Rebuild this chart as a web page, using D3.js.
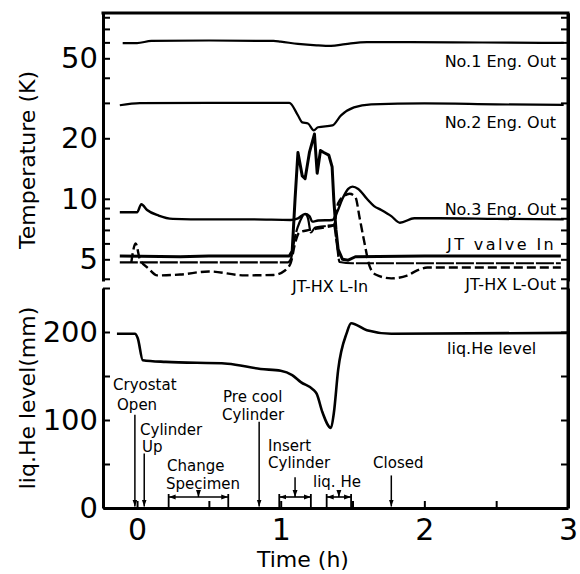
<!DOCTYPE html>
<html><head><meta charset="utf-8">
<script src="https://cdn.jsdelivr.net/npm/d3@7"></script>
<style>
body{margin:0;background:#fff}
svg{display:block}
text{font-family:"DejaVu Sans",sans-serif;fill:#000}
</style>
</head><body>
<svg id="c" width="580" height="574"></svg>
<script>
// ---------- data ----------
const timeTicks = [0, 0.5, 1, 1.5, 2, 2.5, 3];
const timeLabels = [0, 1, 2, 3];
const tempTicks = [4, 5, 6, 7, 8, 9, 10, 20, 30, 40, 50, 60, 70, 80];
const tempLabels = [5, 10, 20, 50];
const levelTicks = [0, 50, 100, 150, 200, 250];
const levelLabels = [0, 100, 200];

// [time (h), temperature (K)]
const no1EngOut = [[-0.1,59.5],[0.0,59.5],[0.1,61],[0.5,61.3],[0.95,61],[1.0,60.5],[1.12,59],[1.25,58],[1.35,57.6],[1.45,58.8],[1.6,60.2],[1.8,60.2],[2.2,60],[2.6,59.8],[2.97,59.6]];
const no2EngOut = [[-0.12,29.2],[0.02,29.9],[0.5,30],[1.06,30],[1.12,26],[1.15,24],[1.19,23.7],[1.23,21.9],[1.26,22.7],[1.36,23.2],[1.42,26],[1.51,28.5],[1.63,29.5],[2.0,29.8],[2.5,29.5],[2.97,29.3]];
const no3EngOut = [[-0.12,8.57],[0.0,8.57],[0.03,9.39],[0.07,8.8],[0.15,8.25],[0.25,7.95],[0.5,7.9],[0.8,7.9],[1.07,7.85],[1.12,8.0],[1.17,8.4],[1.2,8.2],[1.22,7.7],[1.26,7.8],[1.36,7.85],[1.39,8.5],[1.43,10.0],[1.47,11.2],[1.5,11.5],[1.54,11.2],[1.6,10.0],[1.65,9.2],[1.7,8.8],[1.77,8.2],[1.83,7.6],[1.93,8.0],[2.1,8.0],[2.5,7.95],[2.97,7.9]];
const jtValveIn = [[-0.12,5.2],[0.3,5.15],[0.5,5.2],[1.06,5.2],[1.08,5.5],[1.1,10],[1.12,17],[1.15,13],[1.17,12.6],[1.2,17],[1.235,21],[1.254,13.4],[1.277,17.4],[1.3,17],[1.335,16.5],[1.358,14.4],[1.37,9.8],[1.385,7.0],[1.40,5.6],[1.43,5.0],[1.47,4.95],[1.52,5.15],[2.0,5.2],[2.95,5.2]];
const jtHxLIn = [[-0.12,4.83],[0.5,4.83],[1.05,4.83],[1.07,5.0],[1.1,6.5],[1.13,7.6],[1.17,8.4],[1.19,8.0],[1.21,6.8],[1.24,7.2],[1.3,7.3],[1.37,7.4],[1.39,6.0],[1.41,4.85],[1.5,4.78],[2.95,4.78]];
const jtHxLOut = [[-0.04,4.83],[-0.01,6.0],[0.02,5.0],[0.08,4.5],[0.14,4.16],[0.3,4.2],[0.5,4.35],[0.75,4.16],[0.95,4.18],[1.03,4.4],[1.07,4.8],[1.1,6.0],[1.13,6.8],[1.2,7.0],[1.3,7.2],[1.37,7.4],[1.4,9.5],[1.44,10.3],[1.48,10.6],[1.52,10.2],[1.55,8],[1.58,6.2],[1.62,4.6],[1.66,4.2],[1.77,4.02],[1.88,4.15],[1.95,4.4],[2.02,4.55],[2.5,4.55],[2.95,4.55]];
// [time (h), liquid He level (mm)]
const liqHeLevel = [[-0.14,198],[-0.015,198],[0.005,193],[0.04,168],[0.2,166],[0.63,164],[0.86,158],[1.0,156],[1.08,151],[1.14,143],[1.23,134],[1.25,130],[1.29,109],[1.35,91],[1.37,108],[1.40,157],[1.46,199],[1.49,210],[1.6,202],[1.77,198],[3.0,199]];

// events: arrow times (h) and arrow top (mm)
const arrowTimes = [-0.015, 0.05, 0.85, 1.77];
const arrowTops = [106, 62, 98, 37];
const bracketStarts = [0.22, 0.99, 1.32];
const bracketEnds = [0.635, 1.21, 1.49];

// ---------- layout ----------
const svg = d3.select("#c");
const x = d3.scaleLinear().domain([-0.237, 3.0]).range([103, 568]);
const yT = d3.scaleLog().domain([3.9, 84]).range([281, 13]);
const yB = d3.scaleLinear().domain([0, 250]).range([508, 288]);
const xL = 103, xR = 568;

const defs = svg.append("defs");
defs.append("marker").attr("id","ah").attr("viewBox","0 0 10 10").attr("refX",10).attr("refY",5)
  .attr("markerWidth",7).attr("markerHeight",7).attr("markerUnits","userSpaceOnUse").attr("orient","auto-start-reverse")
  .append("path").attr("d","M0,1.5L10,5L0,8.5Z").attr("fill","#000");

function styleAxis(g, labelSize){
  g.select(".domain").attr("stroke","#000").attr("stroke-width",3);
  g.selectAll(".tick line").attr("stroke","#000").attr("stroke-width",2);
  g.selectAll(".tick text").style("font-size",labelSize+"px").attr("fill","#000");
}

// top panel axes
const gTL = svg.append("g").attr("transform",`translate(${xL},0)`)
  .call(d3.axisLeft(yT).tickValues(tempTicks).tickSize(-7).tickSizeOuter(0).tickPadding(5)
    .tickFormat(d => tempLabels.includes(d) ? d : ""));
styleAxis(gTL, 29);
const gTR = svg.append("g").attr("transform",`translate(${xR},0)`)
  .call(d3.axisRight(yT).tickValues(tempTicks).tickSize(-7).tickSizeOuter(0).tickFormat(""));
styleAxis(gTR, 29);
// bottom panel axes
const gBL = svg.append("g").attr("transform",`translate(${xL},0)`)
  .call(d3.axisLeft(yB).tickValues(levelTicks).tickSize(-7).tickSizeOuter(0).tickPadding(5)
    .tickFormat(d => levelLabels.includes(d) ? d : ""));
styleAxis(gBL, 29);
const gBR = svg.append("g").attr("transform",`translate(${xR},0)`)
  .call(d3.axisRight(yB).tickValues(levelTicks).tickSize(-7).tickSizeOuter(0).tickFormat(""));
styleAxis(gBR, 29);
const gX = svg.append("g").attr("transform",`translate(0,${yB(0)})`)
  .call(d3.axisBottom(x).tickValues(timeTicks).tickSize(-7).tickSizeOuter(0).tickPadding(11)
    .tickFormat(d => timeLabels.includes(d) ? d : ""));
styleAxis(gX, 30);
// frame pieces
svg.append("line").attr("x1",xL-1.5).attr("x2",xR+1.5).attr("y1",yT.range()[1]).attr("y2",yT.range()[1])
  .attr("stroke","#000").attr("stroke-width",3);
svg.append("line").attr("x1",xR).attr("x2",xR).attr("y1",yT.range()[1]).attr("y2",yB(0))
  .attr("stroke","#000").attr("stroke-width",3);

// axis titles
svg.append("text").attr("transform",`translate(27,${(yT.range()[0]+yT.range()[1])/2 + 13}) rotate(-90)`)
  .attr("text-anchor","middle").attr("dominant-baseline","central").style("font-size","22px").text("Temperature (K)");
svg.append("text").attr("transform",`translate(27,${(yB.range()[0]+yB.range()[1])/2}) rotate(-90)`)
  .attr("text-anchor","middle").attr("dominant-baseline","central").style("font-size","22px").text("liq.He level(mm)");
svg.append("text").attr("x",(x(0.81)+x(1.5))/2).attr("y",567).attr("text-anchor","middle")
  .style("font-size","22px").text("Time (h)");

// lines
const lineT = d3.line().x(d => x(d[0])).y(d => yT(d[1])).curve(d3.curveMonotoneX);
const lineB = d3.line().x(d => x(d[0])).y(d => yB(d[1])).curve(d3.curveMonotoneX);
const lineLin = d3.line().x(d => x(d[0])).y(d => yT(d[1]));
function draw(path, w, dash){
  const p = svg.append("path").attr("d",path).attr("fill","none").attr("stroke","#000")
    .attr("stroke-width",w).attr("stroke-linejoin","round").attr("stroke-linecap","butt");
  if (dash) p.attr("stroke-dasharray",dash);
}
draw(lineT(no1EngOut), 2.2);
draw(lineT(no2EngOut), 2.2);
draw(lineT(no3EngOut), 2.4);
draw(lineT(jtHxLIn), 2.2, "18,2");
draw(lineT(jtHxLOut), 2.4, "9,4");
draw(lineLin(jtValveIn), 3);
draw(lineB(liqHeLevel), 2.6);

// series labels
function lab(txt, px, py, anchor, extra){
  const t = svg.append("text").attr("x",px).attr("y",py).attr("text-anchor",anchor||"start")
    .style("font-size","16px").text(txt);
  if (extra) t.style("letter-spacing",extra);
  return t;
}
lab("No.1 Eng. Out", x(2.917), yT(45.1), "end");
lab("No.2 Eng. Out", x(2.917), yT(22.4), "end");
lab("No.3 Eng. Out", x(2.917), yT(8.27), "end");
lab("JT valve In", x(2.917), yT(5.54), "end", "2.4px");
lab("JT-HX L-Out", x(2.917), yT(3.51), "end");
lab("JT-HX L-In", x(1.079), yT(3.43), "start");
lab("liq.He level", x(2.158), yB(175), "start");

// event annotations (multi-line labels as tspans of one text)
const evTexts = [
  [[["Cryostat",-0.167],["Open",-0.139]], 134, 20],
  [[["Cylinder",0.021],["Up",0.035]], 83, 17],
  [[["Change",0.209],["Specimen",0.202]], 42, 17.5],
  [[["Pre cool",0.599],["Cylinder",0.592]], 120, 17.5],
  [[["Insert",0.912],["Cylinder",0.912]], 65, 17.5],
  [[["liq. He",1.225]], 24, 0],
  [[["Closed",1.643]], 45, 0]
];
evTexts.forEach(([lines, base, gap]) => {
  const t = svg.append("text").attr("y", yB(base)).style("font-size","15px");
  lines.forEach(([s, tx], i) => {
    t.append("tspan").attr("x", x(tx)).attr("dy", i === 0 ? 0 : gap).text(s);
  });
});

arrowTimes.forEach((t,i) => {
  svg.append("line").attr("x1",x(t)).attr("x2",x(t)).attr("y1",yB(arrowTops[i])).attr("y2",yB(0)-1.5)
    .attr("stroke","#000").attr("stroke-width",1.5).attr("marker-end","url(#ah)");
});
const yBr = yB(12.5);
bracketStarts.forEach((s,i) => {
  const e = bracketEnds[i];
  svg.append("line").attr("x1",x(s)).attr("x2",x(e)).attr("y1",yBr).attr("y2",yBr)
    .attr("stroke","#000").attr("stroke-width",1.6).attr("marker-start","url(#ah)").attr("marker-end","url(#ah)");
  [s,e].forEach(v => svg.append("line").attr("x1",x(v)).attr("x2",x(v)).attr("y1",yBr-3).attr("y2",yB(0))
    .attr("stroke","#000").attr("stroke-width",1.8));
  const m = (s+e)/2;
  const top = i === 1 ? yB(35) : yBr-6;
  svg.append("line").attr("x1",x(m)).attr("x2",x(m)).attr("y1",top).attr("y2",yBr)
    .attr("stroke","#000").attr("stroke-width",1.5).attr("marker-end","url(#ah)");
});
</script>
</body></html>
